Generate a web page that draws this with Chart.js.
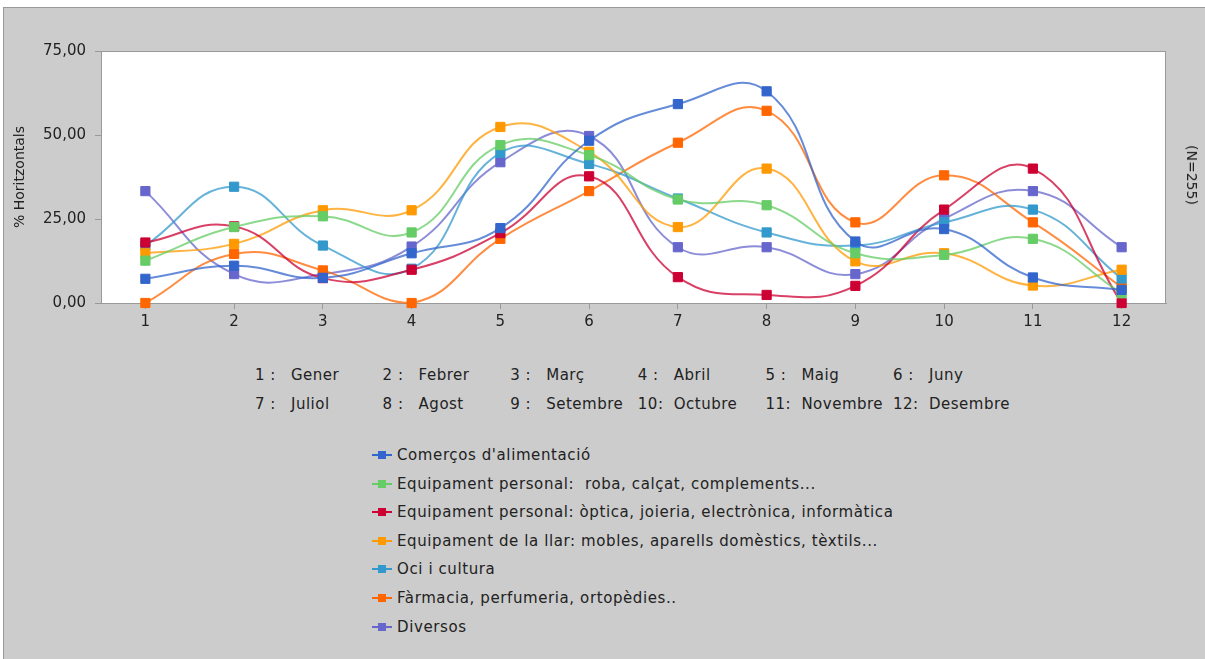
<!DOCTYPE html>
<html>
<head>
<meta charset="utf-8">
<script src="https://cdn.jsdelivr.net/npm/chart.js@4/dist/chart.umd.min.js"></script>
<style>
  body { margin: 0; background: #fff; width: 1205px; height: 659px; overflow: hidden; font-family: 'DejaVu Sans', sans-serif; color: #222; }
  #panel { position: absolute; left: 3px; top: 7px; width: 1202px; height: 652px; background: #cccccc; border-top: 1px solid #999; border-left: 1px solid #999; box-sizing: border-box; }
  #chart { position: absolute; left: 0; top: 0; }
  #nlabel { position: absolute; left: 1192px; top: 175px; transform: translate(-50%, -50%) rotate(90deg); font-size: 14px; white-space: nowrap; }
  .mk { position: absolute; font-size: 15px; line-height: 20px; white-space: pre; letter-spacing: 0.5px; }
  .mk span { display: inline-block; width: 36px; }
  .lg { position: absolute; left: 372px; height: 20px; display: flex; align-items: center; font-size: 15px; white-space: pre; letter-spacing: 0.6px; }
  .sw { position: relative; width: 20px; height: 20px; margin-right: 5px; }
  .sw i { position: absolute; left: 0; top: 9px; width: 20px; height: 2px; }
  .sw b { position: absolute; left: 6px; top: 6px; width: 8px; height: 8px; }
</style>
</head>
<body>
<div id="panel"></div>
<canvas id="chart" width="1205" height="345"></canvas>
<div id="nlabel">(N=255)</div>
<div id="keys"></div>
<div id="legend"></div>
<script>
// x categories and month key
const months = ['1', '2', '3', '4', '5', '6', '7', '8', '9', '10', '11', '12'];
const monthNames = ['Gener', 'Febrer', 'Març', 'Abril', 'Maig', 'Juny',
  'Juliol', 'Agost', 'Setembre', 'Octubre', 'Novembre', 'Desembre'];
const yTickLabels = ['0,00', '25,00', '50,00', '75,00'];

// series values (% horitzontals)
const comercos = [7.2, 11.1, 7.5, 14.8, 22.3, 48.3, 59.2, 63.0, 18.3, 22.0, 7.6, 3.9];
const roba     = [12.6, 22.6, 25.8, 21.0, 47.0, 44.0, 30.8, 29.1, 14.8, 14.3, 19.1, 2.9];
const optica   = [18.0, 22.8, 7.4, 9.9, 20.8, 37.7, 7.7, 2.4, 5.1, 27.8, 40.0, 0.0];
const llar     = [14.8, 17.6, 27.6, 27.6, 52.4, 45.0, 22.6, 40.0, 12.4, 14.8, 5.2, 9.9];
const oci      = [17.1, 34.6, 17.1, 10.2, 44.7, 41.4, 31.1, 21.0, 17.1, 24.0, 27.8, 7.3];
const farmacia = [0.0, 14.6, 9.7, 0.0, 19.1, 33.3, 47.7, 57.2, 24.0, 38.0, 24.0, 4.7];
const diversos = [33.3, 8.6, 8.6, 16.8, 41.9, 49.7, 16.6, 16.6, 8.6, 25.1, 33.3, 16.6];

const seriesNames = [
  "Comerços d'alimentació",
  'Equipament personal:  roba, calçat, complements...',
  'Equipament personal: òptica, joieria, electrònica, informàtica',
  'Equipament de la llar: mobles, aparells domèstics, tèxtils...',
  'Oci i cultura',
  'Fàrmacia, perfumeria, ortopèdies..',
  'Diversos'
];
const seriesData = [comercos, roba, optica, llar, oci, farmacia, diversos];
const seriesColors = ['#3366CC', '#66CC66', '#CC0033', '#FF9900', '#3399CC', '#FF6600', '#6666CC'];

function fade(hex, a) {
  const n = parseInt(hex.slice(1), 16);
  return 'rgba(' + (n >> 16) + ',' + ((n >> 8) & 255) + ',' + (n & 255) + ',' + a + ')';
}

Chart.defaults.font.family = "'DejaVu Sans', sans-serif";
Chart.defaults.color = '#222';

// white plot area with thin grey frame
const plotBg = {
  id: 'plotBg',
  beforeDraw(chart) {
    const { ctx, chartArea: a } = chart;
    ctx.save();
    ctx.fillStyle = '#fff';
    ctx.fillRect(a.left, a.top, a.right - a.left, a.bottom - a.top);
    ctx.strokeStyle = '#999';
    ctx.lineWidth = 1;
    ctx.strokeRect(a.left + 0.5, a.top + 0.5, a.right - a.left - 1, a.bottom - a.top);
    ctx.restore();
  }
};

new Chart(document.getElementById('chart').getContext('2d'), {
  type: 'line',
  data: {
    labels: months,
    datasets: seriesData.map((d, i) => ({
      label: seriesNames[i],
      data: d,
      borderColor: fade(seriesColors[i], 0.75),
      borderWidth: 2,
      tension: 0.45,
      pointStyle: 'rect',
      pointRadius: 6.5,
      pointBackgroundColor: seriesColors[i],
      pointBorderColor: seriesColors[i],
      pointBorderWidth: 1,
      clip: 8
    }))
  },
  options: {
    responsive: false,
    animation: false,
    layout: { padding: { top: 51, right: 39, left: 0, bottom: 0 } },
    plugins: { legend: { display: false }, tooltip: { enabled: false } },
    scales: {
      x: {
        offset: true,
        grid: { drawOnChartArea: false, tickLength: 6, tickColor: '#999' },
        border: { color: '#999' },
        ticks: { padding: 4, font: { size: 15 }, maxRotation: 0 },
        afterFit(s) { s.height = 42; }
      },
      y: {
        min: 0,
        max: 75,
        grid: { drawOnChartArea: false, tickLength: 6, tickColor: '#999' },
        border: { color: '#999' },
        ticks: {
          stepSize: 25, padding: 9, font: { size: 15 },
          callback: (v, idx) => yTickLabels[idx]
        },
        title: { display: true, text: '% Horitzontals', font: { size: 14 }, padding: { top: 12, bottom: 0 } },
        afterFit(s) { s.width = 101; }
      }
    }
  },
  plugins: [plotBg]
});

// month key under the axis
const keys = document.getElementById('keys');
monthNames.forEach((name, i) => {
  const el = document.createElement('div');
  el.className = 'mk';
  el.style.left = (255 + (i % 6) * 127.6) + 'px';
  el.style.top = (365 + Math.floor(i / 6) * 29) + 'px';
  el.innerHTML = '<span>' + months[i] + (months[i].length > 1 ? ':' : ' :') + '</span>' + name;
  keys.appendChild(el);
});

// series legend
const legend = document.getElementById('legend');
seriesNames.forEach((name, i) => {
  const el = document.createElement('div');
  el.className = 'lg';
  el.style.top = (445 + i * 28.6) + 'px';
  el.innerHTML = '<div class="sw"><i style="background:' + seriesColors[i] + '"></i><b style="background:' +
    seriesColors[i] + '"></b></div>' + name;
  legend.appendChild(el);
});
</script>
</body>
</html>
